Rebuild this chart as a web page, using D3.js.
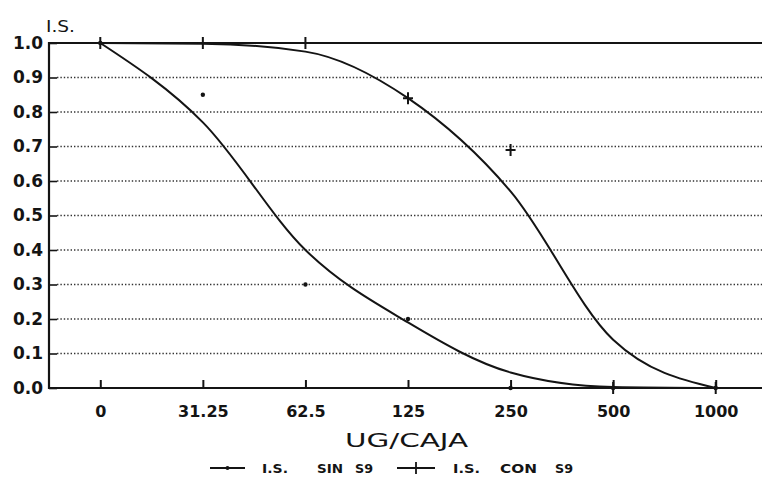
<!DOCTYPE html>
<html>
<head>
<meta charset="utf-8">
<script src="https://cdn.jsdelivr.net/npm/d3@7"></script>
<style>
  html, body { margin: 0; padding: 0; background: #fff; }
  svg { display: block; }
</style>
</head>
<body>
<div id="chart"></div>
<script>
const categories = ["0", "31.25", "62.5", "125", "250", "500", "1000"];
// fitted curves
const sinCurve = [1.0, 0.77, 0.40, 0.19, 0.045, 0.003, 0.0];
const conCurve = [1.0, 0.998, 0.975, 0.84, 0.57, 0.14, 0.0];
// observed points
const sinPoints = [1.0, 0.85, 0.30, 0.20, 0.0, 0.0, 0.0];
const conPoints = [1.0, 1.0, 1.0, 0.84, 0.69, 0.0, 0.0];
const yTicks = [0, 0.1, 0.2, 0.3, 0.4, 0.5, 0.6, 0.7, 0.8, 0.9, 1.0];

const W = 762, H = 493;
const margin = {top: 43, right: 0, bottom: 105, left: 49};
const ink = "#141414";
const font = "'DejaVu Sans', sans-serif";

const svg = d3.select('#chart').append('svg')
  .attr('width', W)
  .attr('height', H);

const x = d3.scalePoint()
  .domain(categories)
  .range([margin.left, 767])
  .padding(0.5);

const y = d3.scaleLinear()
  .domain([0, 1])
  .range([H - margin.bottom, margin.top]);

// dotted grid
svg.append('g').selectAll('line')
  .data(yTicks.filter(d => d > 0 && d < 1))
  .enter().append('line')
  .attr('x1', margin.left + 8)
  .attr('x2', W)
  .attr('y1', d => y(d))
  .attr('y2', d => y(d))
  .attr('stroke', '#333')
  .attr('stroke-width', 1.6)
  .attr('stroke-dasharray', '1.4 2.0');

// y axis
const yAxis = svg.append('g')
  .attr('transform', `translate(${margin.left},0)`)
  .call(d3.axisRight(y).tickValues(yTicks).tickSize(8).tickFormat(d3.format('.1f')));
yAxis.select('.domain').remove();
yAxis.selectAll('line').attr('stroke', ink).attr('stroke-width', 1.6);
yAxis.selectAll('text')
  .attr('x', -6)
  .attr('text-anchor', 'end')
  .attr('fill', ink)
  .style('font-family', font)
  .style('font-weight', 'bold')
  .style('font-size', '17px');

// x axis
const xAxis = svg.append('g')
  .attr('transform', `translate(0,${y(0)})`)
  .call(d3.axisTop(x).tickSize(8));
xAxis.select('.domain').remove();
xAxis.selectAll('line').attr('stroke', ink).attr('stroke-width', 2);
xAxis.selectAll('text')
  .attr('y', 29)
  .attr('fill', ink)
  .style('font-family', font)
  .style('font-weight', 'bold')
  .style('font-size', '16px');

// frame: left, top, bottom
svg.append('path')
  .attr('d', `M${W},${y(1)} H${margin.left} V${y(0)} H${W}`)
  .attr('fill', 'none')
  .attr('stroke', ink)
  .attr('stroke-width', 2.2);

// curves
const line = d3.line()
  .x((d, i) => x(categories[i]))
  .y(d => y(d))
  .curve(d3.curveMonotoneX);

[sinCurve, conCurve].forEach(vals => {
  svg.append('path')
    .datum(vals)
    .attr('d', line)
    .attr('fill', 'none')
    .attr('stroke', ink)
    .attr('stroke-width', 2);
});

// markers
svg.append('g').selectAll('circle')
  .data(sinPoints)
  .enter().append('circle')
  .attr('cx', (d, i) => x(categories[i]))
  .attr('cy', d => y(d))
  .attr('r', 2.2)
  .attr('fill', ink);

const plus = (cx, cy, s) => `M${cx - s},${cy} H${cx + s} M${cx},${cy - s - 1} V${cy + s + 1}`;
svg.append('g').selectAll('path')
  .data(conPoints)
  .enter().append('path')
  .attr('d', (d, i) => plus(x(categories[i]), y(d), 5))
  .attr('stroke', ink)
  .attr('stroke-width', 2)
  .attr('fill', 'none');

// axis titles
svg.append('text')
  .attr('x', 46)
  .attr('y', 32)
  .attr('fill', ink)
  .style('font-family', font)
  .style('font-size', '15px')
  .attr('textLength', 29)
  .attr('lengthAdjust', 'spacingAndGlyphs')
  .text('I.S.');

svg.append('text')
  .attr('x', 345)
  .attr('y', 447)
  .attr('fill', ink)
  .style('font-family', font)
  .style('font-size', '19px')
  .attr('textLength', 123)
  .attr('lengthAdjust', 'spacingAndGlyphs')
  .text('UG/CAJA');

// legend
const legend = [
  {x0: 210, x1: 245, mark: 'dot', words: [['I.S.', 262, 26], ['SIN', 317, 26], ['S9', 355, 18]]},
  {x0: 397, x1: 435, mark: 'plus', words: [['I.S.', 453, 27], ['CON', 500, 37], ['S9', 555, 18]]}
];
const ly = 472;
legend.forEach(l => {
  const g = svg.append('g');
  g.append('line')
    .attr('x1', l.x0).attr('x2', l.x1)
    .attr('y1', ly - 4).attr('y2', ly - 4)
    .attr('stroke', ink).attr('stroke-width', 1.8);
  const mx = (l.x0 + l.x1) / 2;
  if (l.mark === 'dot') {
    g.append('circle').attr('cx', mx).attr('cy', ly - 4).attr('r', 2).attr('fill', ink);
  } else {
    g.append('path').attr('d', `M${mx},${ly - 10} V${ly + 2}`)
      .attr('stroke', ink).attr('stroke-width', 1.8);
  }
  l.words.forEach(([t, wx, wl]) => {
    g.append('text')
      .attr('x', wx)
      .attr('y', ly + 1)
      .attr('fill', ink)
      .style('font-family', font)
      .style('font-weight', 'bold')
      .style('font-size', '13px')
      .attr('textLength', wl)
      .attr('lengthAdjust', 'spacingAndGlyphs')
      .text(t);
  });
});
</script>
</body>
</html>
